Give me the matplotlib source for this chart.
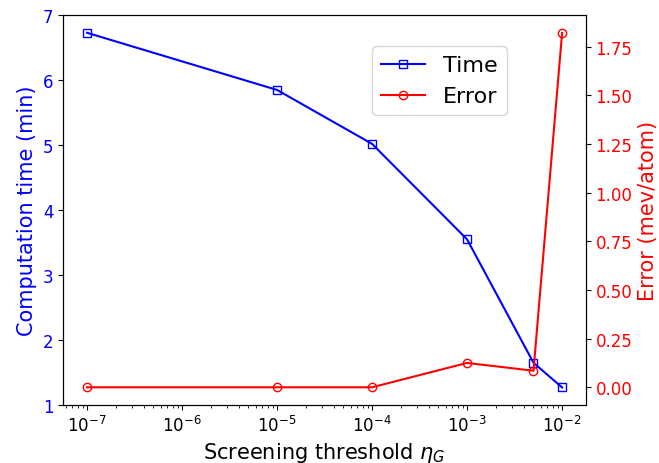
import matplotlib.pyplot as plt
import numpy as np

# screening threshold vs time / error
eta = [1e-7, 1e-5, 1e-4, 1e-3, 5e-3, 1e-2]
time_min = [6.73, 5.85, 5.02, 3.55, 1.65, 1.27]
err_mev = [0.0, 0.0, 0.0, 0.125, 0.085, 1.82]

fig, ax = plt.subplots(figsize=(6.59, 4.64), dpi=100)
l1, = ax.plot(eta, time_min, 's-', color='blue', mfc='none', label='Time')
ax.set_xscale('log')
ax.set_ylim(1, 7)
ax.set_xlabel(r'Screening threshold $\eta_G$', fontsize=15)
ax.set_ylabel('Computation time (min)', color='blue', fontsize=15)
ax.tick_params(axis='y', labelcolor='blue', labelsize=12)
ax.tick_params(axis='x', labelsize=12)

ax2 = ax.twinx()
l2, = ax2.plot(eta, err_mev, 'o-', color='red', mfc='none', label='Error')
ax2.set_ylabel('Error (mev/atom)', color='red', fontsize=15)
ax2.tick_params(axis='y', labelcolor='red', labelsize=12)
ax2.set_yticks([0, 0.25, 0.5, 0.75, 1.0, 1.25, 1.5, 1.75])
ax2.set_yticklabels(['%.2f' % v for v in [0, 0.25, 0.5, 0.75, 1.0, 1.25, 1.5, 1.75]])

ax.legend([l1, l2], ['Time', 'Error'], fontsize=16, loc='upper left',
          bbox_to_anchor=(0.591, 0.92), borderaxespad=0)

plt.subplots_adjust(left=0.096, right=0.889, top=0.965, bottom=0.125)
plt.savefig('out.png')
